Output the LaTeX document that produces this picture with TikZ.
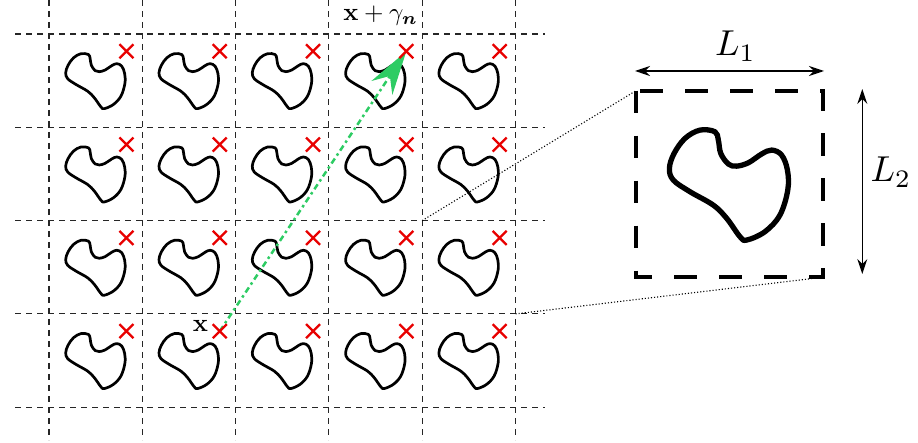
\documentclass[tikz,border=0pt]{standalone}
\usepackage{bm}
\usetikzlibrary{arrows.meta}
\definecolor{arrowgreen}{RGB}{46,204,100}
\definecolor{xred}{RGB}{232,0,0}
\tikzset{
  gridline/.style={black!85, line width=1.1pt, dash pattern=on 6pt off 5pt},
  blobline/.style={black, line width=2.7pt, line join=round},
  bigblobline/.style={black, line width=5.3pt, line join=round},
  cross/.style={xred, line width=2.3pt},
  greenarrow/.style={arrowgreen, line width=2.5pt, dash pattern=on 6pt off 3.5pt on 2.5pt off 3.5pt, -{Stealth[length=44pt,width=25pt]}},
  bigsquare/.style={black, line width=4pt, dash pattern=on 22.5pt off 22.5pt},
  zoomline/.style={black, line width=1.1pt, dash pattern=on 1.1pt off 2pt},
  dimarrow/.style={black, line width=1.3pt, {Stealth[length=15pt,width=10pt,inset=5pt]}-{Stealth[length=15pt,width=10pt,inset=5pt]}},
  smalllabel/.style={scale=2.5, inner sep=0pt, anchor=base},
  biglabel/.style={scale=3.6, inner sep=0pt, anchor=base}
}
\newcommand\blobpts{(0.343,0.211) (0.423,0.220) (0.441,0.264) (0.454,0.336) (0.495,0.393) (0.539,0.404) (0.602,0.386) (0.673,0.339) (0.727,0.318) (0.780,0.345) (0.811,0.425) (0.813,0.532) (0.771,0.666) (0.691,0.755) (0.593,0.800) (0.557,0.782) (0.486,0.684) (0.414,0.613) (0.289,0.541) (0.200,0.479) (0.179,0.416) (0.204,0.336) (0.263,0.255)}
\begin{document}
\begin{tikzpicture}[x=1pt,y=-1pt]
\useasboundingbox (0,0) rectangle (918,443);
% grid
\foreach \i in {0,...,5} \draw[gridline] (49+93.3*\i,0) -- (49+93.3*\i,440);
\foreach \j in {0,...,4} \draw[gridline] (15,34+93.3*\j) -- (545,34+93.3*\j);
\foreach \i in {0,...,5} \foreach \j in {0,...,4} \coordinate (G\i\j) at (49+93.3*\i,34+93.3*\j);
% blobs
\foreach \i in {0,...,4} \foreach \j in {0,...,3} {
  \begin{scope}[shift={(49+93.3*\i,34+93.3*\j)}, x=93.3pt, y=-93.3pt]
    \draw[blobline] plot[smooth cycle, tension=0.6] coordinates {\blobpts};
    \coordinate (X\i\j) at (0.83,0.185);
  \end{scope}
}
% green arrow
\draw[greenarrow] (X13) -- (X30);
% crosses
\foreach \i in {0,...,4} \foreach \j in {0,...,3} {
  \draw[cross] (X\i\j) +(-7,-7) -- +(7,7) +(-7,7) -- +(7,-7);
}
% labels on grid
\node[smalllabel] (lblgamma) at (380.5,20.7) {$\mathbf{x}+\gamma_{\bm{n}}$};
\node[smalllabel] (lblx) at (200.5,331.7) {$\mathbf{x}$};
% zoomed cell
\coordinate (sqTL) at (636,90.7);
\coordinate (sqBR) at (822.7,277.3);
\draw[zoomline] (G42) -- (sqTL);
\draw[zoomline] (G53) -- (sqBR);
\draw[bigsquare] (sqTL) rectangle (sqBR);
\begin{scope}[shift={(636,90.7)}, x=186.7pt, y=-186.7pt]
  \draw[bigblobline] plot[smooth cycle, tension=0.6] coordinates {\blobpts};
\end{scope}
% dimension arrows
\coordinate (L1a) at (635,71);
\coordinate (L1b) at (824,71);
\coordinate (L2a) at (862.3,89);
\coordinate (L2b) at (862.3,274);
\draw[dimarrow] (L1a) -- (L1b);
\draw[dimarrow] (L2a) -- (L2b);
\node[biglabel] (lblL1) at (735.5,56) {$L_1$};
\node[biglabel] (lblL2) at (891,181.7) {$L_2$};
\end{tikzpicture}
\end{document}
